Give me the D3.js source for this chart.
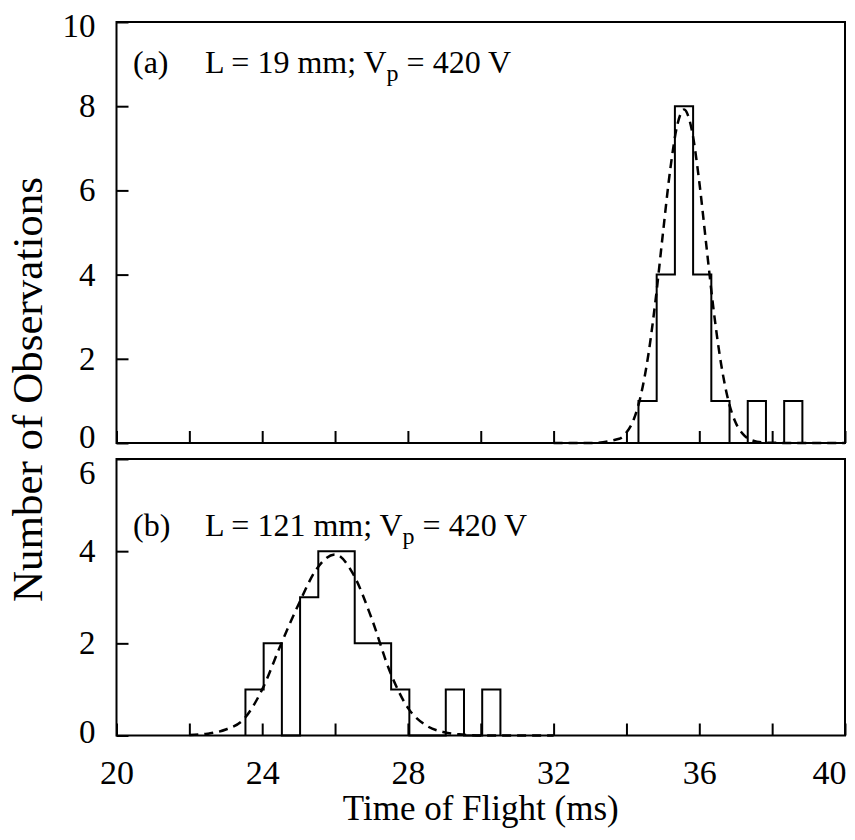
<!DOCTYPE html>
<html>
<head>
<meta charset="utf-8">
<script src="https://cdn.jsdelivr.net/npm/d3@7"></script>
<style>
  html, body { margin: 0; padding: 0; background: #fff; }
  svg { display: block; }
</style>
</head>
<body>
<div id="chart"></div>
<script>
// ---------- data ----------
// Panel (a): L = 19 mm, histogram bins (edges, ms) and counts
const binEdgesA = [34.33, 34.83, 35.33, 35.83, 36.33, 36.83, 37.33, 37.83, 38.33, 38.83];
const countsA   = [1, 4, 8, 4, 1, 0, 1, 0, 1];
// Panel (a) fitted curve: time (ms), count
const fitTimeA  = [32.0, 33.0, 33.8, 34.0, 34.2, 34.4, 34.6, 34.8, 35.0, 35.2, 35.4, 35.58, 35.8, 36.0, 36.2, 36.4, 36.6, 36.8, 37.0, 37.2, 37.4, 37.8, 38.5, 40.0];
const fitCountA = [0.0, 0.0, 0.10, 0.25, 0.56, 1.15, 2.09, 3.40, 4.97, 6.48, 7.57, 7.92, 7.41, 6.20, 4.64, 3.11, 1.87, 1.00, 0.48, 0.21, 0.08, 0.01, 0.0, 0.0];

// Panel (b): L = 121 mm
const binEdgesB = [23.54, 24.04, 24.54, 25.04, 25.54, 26.04, 26.54, 27.04, 27.54, 28.04, 28.54, 29.04, 29.54, 30.04, 30.54];
const countsB   = [1, 2, 0, 3, 4, 4, 2, 2, 1, 0, 0, 1, 0, 1];
const fitTimeB  = [22.0, 22.5, 23.0, 23.5, 24.0, 24.5, 25.0, 25.5, 26.0, 26.5, 27.0, 27.5, 28.0, 28.5, 29.0, 29.5, 30.0, 31.0, 32.0];
const fitCountB = [0.01, 0.04, 0.13, 0.36, 1.0, 1.95, 2.85, 3.62, 3.93, 3.5, 2.55, 1.4, 0.6, 0.22, 0.07, 0.02, 0.0, 0.0, 0.0];

// Axis ticks / labels
const xTicks = [20, 22, 24, 26, 28, 30, 32, 34, 36, 38, 40];
const xTickLabels = [20, 24, 28, 32, 36, 40];
const yTicksA = [0, 2, 4, 6, 8, 10];
const yTicksB = [0, 2, 4, 6];
const panelLabelA = { tag: "(a)", main: "L = 19 mm; V", sub: "p", rest: " = 420 V" };
const panelLabelB = { tag: "(b)", main: "L = 121 mm; V", sub: "p", rest: " = 420 V" };
const xTitle = "Time of Flight (ms)";
const yTitle = "Number of Observations";

// ---------- layout ----------
const W = 855, H = 840;
const FONT = "'Liberation Serif', 'Times New Roman', Times, serif";
const left = 116.5, right = 845;
const panelA = { top: 22, bottom: 443, labelY: 73, minShift: -6, maxShift: 4 };
const panelB = { top: 459, bottom: 735.5, labelY: 536, minShift: -4, maxShift: 14 };

const svg = d3.select("#chart").append("svg")
  .attr("width", W).attr("height", H)
  .style("font-family", FONT);

const x = d3.scaleLinear().domain([20, 40]).range([left, right]);
const yA = d3.scaleLinear().domain([0, 10]).range([panelA.bottom, panelA.top]);
const yB = d3.scaleLinear().domain([0, 6]).range([panelB.bottom, panelB.top]);

function stepPoints(edges, counts) {
  const pts = [[edges[0], 0]];
  counts.forEach((c, i) => {
    pts.push([edges[i], c]);
    pts.push([edges[i + 1], c]);
  });
  pts.push([edges[edges.length - 1], 0]);
  return pts;
}

function drawPanel(y, panel, yTicks, edges, counts, fitT, fitC, label, showXLabels) {
  const g = svg.append("g");

  // histogram outline
  const stepLine = d3.line().x(d => x(d[0])).y(d => y(d[1]));
  g.append("path")
    .attr("d", stepLine(stepPoints(edges, counts)))
    .attr("fill", "none").attr("stroke", "#000").attr("stroke-width", 2)
    .attr("stroke-linejoin", "miter");

  // fitted curve
  const fitData = fitT.map((t, i) => [t, fitC[i]]);
  const fitLine = d3.line().x(d => x(d[0])).y(d => y(d[1])).curve(d3.curveMonotoneX);
  g.append("path")
    .attr("d", fitLine(fitData))
    .attr("fill", "none").attr("stroke", "#000").attr("stroke-width", 2.5)
    .attr("stroke-dasharray", "9,6");

  // left axis
  const yMin = d3.min(yTicks), yMax = d3.max(yTicks);
  const yAxis = d3.axisLeft(y).tickValues(yTicks).tickSize(-12).tickSizeOuter(0).tickPadding(21)
    .tickFormat(d3.format("d"));
  const ya = g.append("g").attr("transform", `translate(${left},0)`).call(yAxis);
  ya.select(".domain").remove();
  ya.selectAll(".tick line").attr("stroke", "#000").attr("stroke-width", 2);
  ya.selectAll(".tick text").attr("font-family", FONT).attr("font-size", 33).attr("fill", "#000")
    .attr("y", d => d === yMin ? panel.minShift : (d === yMax ? panel.maxShift : 0));

  // bottom axis
  const xAxis = d3.axisBottom(x).tickValues(xTicks).tickSize(-12).tickSizeOuter(0).tickPadding(24)
    .tickFormat(d => (showXLabels && xTickLabels.includes(d)) ? d : "");
  const xa = g.append("g").attr("transform", `translate(0,${panel.bottom})`).call(xAxis);
  xa.select(".domain").remove();
  xa.selectAll(".tick line").attr("stroke", "#000").attr("stroke-width", 2);
  xa.selectAll(".tick text").attr("font-family", FONT).attr("font-size", 34).attr("fill", "#000");
  if (showXLabels) {
    xa.selectAll(".tick text").filter(d => d === 40).attr("text-anchor", "end").attr("x", 1);
  }

  // frame
  g.append("rect")
    .attr("x", left).attr("y", panel.top)
    .attr("width", right - left).attr("height", panel.bottom - panel.top)
    .attr("fill", "none").attr("stroke", "#000").attr("stroke-width", 2);

  // panel label
  const baseY = panel.labelY;
  g.append("text").attr("x", 133).attr("y", baseY)
    .attr("font-size", 32).attr("fill", "#000").text(label.tag);
  const t = g.append("text").attr("x", 205).attr("y", baseY)
    .attr("font-size", 32).attr("fill", "#000");
  t.append("tspan").text(label.main);
  t.append("tspan").attr("dy", 8).attr("font-size", 24).text(label.sub);
  t.append("tspan").attr("dy", -8).attr("font-size", 32).text(label.rest);
}

drawPanel(yA, panelA, yTicksA, binEdgesA, countsA, fitTimeA, fitCountA, panelLabelA, false);
drawPanel(yB, panelB, yTicksB, binEdgesB, countsB, fitTimeB, fitCountB, panelLabelB, true);

// axis titles
svg.append("text")
  .attr("x", (left + right) / 2).attr("y", 820)
  .attr("text-anchor", "middle").attr("font-size", 35).attr("fill", "#000")
  .text(xTitle);

svg.append("text")
  .attr("transform", `translate(42,${(176 + 603) / 2}) rotate(-90)`)
  .attr("text-anchor", "middle").attr("font-size", 43).attr("fill", "#000")
  .text(yTitle);
</script>
</body>
</html>
